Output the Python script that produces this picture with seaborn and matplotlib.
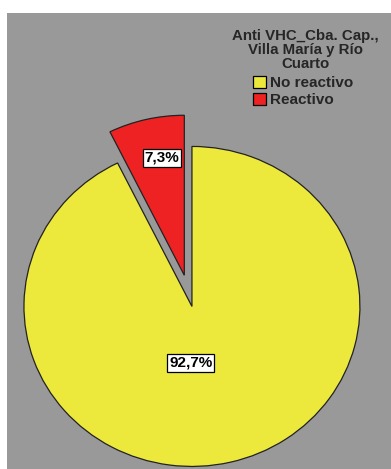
import matplotlib
matplotlib.use("Agg")
import matplotlib.pyplot as plt
import seaborn as sns
from matplotlib.patches import Patch

# Data
categories = ["No reactivo", "Reactivo"]
percentages = [92.7, 7.3]
slice_colors = ["#ECE83C", "#EE2222"]
title_text = "Anti VHC_Cba. Cap.,\nVilla María y Río\nCuarto"

sns.set_style("white")
plt.rcParams["font.family"] = ["Liberation Sans", "DejaVu Sans"]

W, H = 391, 469
fig = plt.figure(figsize=(W / 100, H / 100), dpi=100)
fig.patch.set_facecolor("white")

# gray plotting panel
left_px, top_px = 7, 13
ax = fig.add_axes([left_px / W, 0, (W - left_px) / W, (H - top_px) / H])

wedges, texts, autotexts = ax.pie(
    percentages,
    colors=slice_colors,
    startangle=90,
    counterclock=False,
    explode=[0, 0.2],
    autopct=lambda p: f"{p:.1f}%".replace(".", ","),
    pctdistance=0.75,
    wedgeprops=dict(edgecolor="#222222", linewidth=0.9),
    textprops=dict(fontsize=11, fontweight="bold", color="black"),
)

for t in autotexts:
    t.set_bbox(dict(boxstyle="square,pad=0.12", facecolor="white",
                    edgecolor="black", linewidth=0.9))
autotexts[0].set_position((-0.006, -0.353))
autotexts[1].set_position((-0.179, 0.928))

ax.set_aspect("auto")
ax.set_xlim(-1.101, 1.185)
ax.set_ylim(-1.016, 1.834)
ax.set_frame_on(True)
ax.set_facecolor("#999999")
for s in ax.spines.values():
    s.set_visible(False)
ax.set_xticks([])
ax.set_yticks([])

# legend title and entries
fig.text(305 / W, 1 - 50 / H, title_text, ha="center", va="center",
         fontsize=10.8, fontweight="bold", linespacing=1.0)
handles = [Patch(facecolor=c, edgecolor="black", linewidth=0.9) for c in slice_colors]
fig.legend(handles, categories, loc="upper left",
           bbox_to_anchor=(253 / W, 1 - 76 / H),
           frameon=False, prop=dict(size=11, weight="bold"),
           handlelength=0.88, handleheight=0.8, handletextpad=0.25,
           labelspacing=0.2, borderpad=0.0, borderaxespad=0.0)

fig.savefig("out.png", dpi=100)
